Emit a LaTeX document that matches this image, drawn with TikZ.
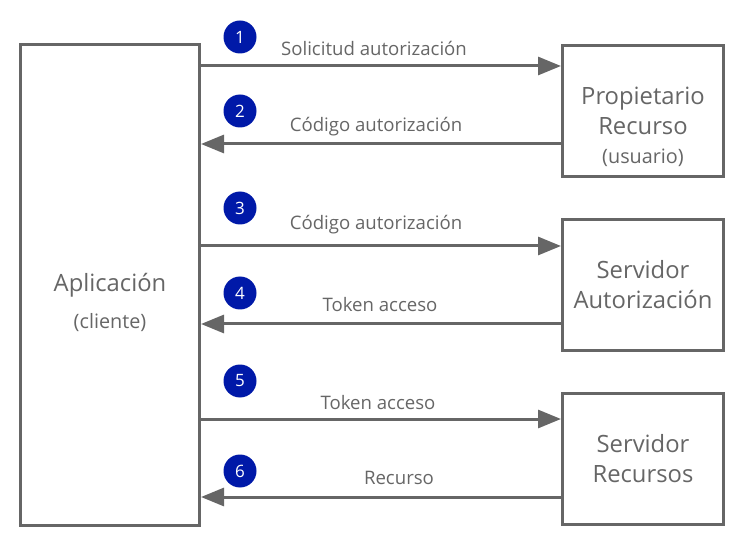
\documentclass[tikz,border=0pt]{standalone}
\usepackage{fontspec}
\setmainfont{Open Sans}
\usetikzlibrary{arrows.meta}
\definecolor{lineGray}{HTML}{666666}
\definecolor{stepBlue}{HTML}{0019A8}
\tikzset{
  box/.style={draw=lineGray, line width=3pt, fill=white, align=center, text=lineGray,
    font=\fontsize{23.8}{30}\selectfont},
  boxsub/.style={text=lineGray, font=\fontsize{19.8}{22}\selectfont},
  msg/.style={text=lineGray, font=\fontsize{18.6}{20}\selectfont},
  stepnum/.style={circle, fill=stepBlue, text=white, minimum size=33pt, inner sep=0pt,
    font=\fontsize{17}{17}\selectfont},
  flow/.style={->, line width=3pt, draw=lineGray}
}

\begin{document}
\begin{tikzpicture}[x=1pt, y=-1pt, >={Triangle[length=23pt,width=18pt]}]
    \useasboundingbox (0,0) rectangle (745,548);

    \node[box, minimum width=179pt, minimum height=481pt] (app) at (110,285) {Aplicación};
    \node[boxsub] (appsub) at (110,323) {(cliente)};

    \node[box, minimum width=161pt, minimum height=131pt] (owner) at (643,111) {Propietario\\Recurso};
    \node[boxsub] (ownersub) at (643,158) {(usuario)};
    \node[box, minimum width=161pt, minimum height=131pt] (authsrv) at (643,285) {Servidor\\Autorización};
    \node[box, minimum width=161pt, minimum height=131pt] (ressrv) at (643,458.5) {Servidor\\Recursos};

    % peticiones y respuestas
    \draw[flow] (app.east |- 0,66) -- (owner.west |- 0,66);
    \draw[flow] (owner.west |- 0,144) -- (app.east |- 0,144);
    \draw[flow] (app.east |- 0,246) -- (authsrv.west |- 0,246);
    \draw[flow] (authsrv.west |- 0,324) -- (app.east |- 0,324);
    \draw[flow] (app.east |- 0,419) -- (ressrv.west |- 0,419);
    \draw[flow] (ressrv.west |- 0,497) -- (app.east |- 0,497);

    \node[msg] (msg1) at (374,48) {Solicitud autorización};
    \node[msg] (msg2) at (376,127) {Código autorización};
    \node[msg] (msg3) at (376,225) {Código autorización};
    \node[msg] (msg4) at (380,305) {Token acceso};
    \node[msg] (msg5) at (378,403) {Token acceso};
    \node[msg] (msg6) at (399,478) {Recurso};

    \node[stepnum] (step1) at (240,37) {1};
    \node[stepnum] (step2) at (240,111) {2};
    \node[stepnum] (step3) at (240,208) {3};
    \node[stepnum] (step4) at (240,293) {4};
    \node[stepnum] (step5) at (240,381) {5};
    \node[stepnum] (step6) at (240,471) {6};
\end{tikzpicture}
\end{document}
